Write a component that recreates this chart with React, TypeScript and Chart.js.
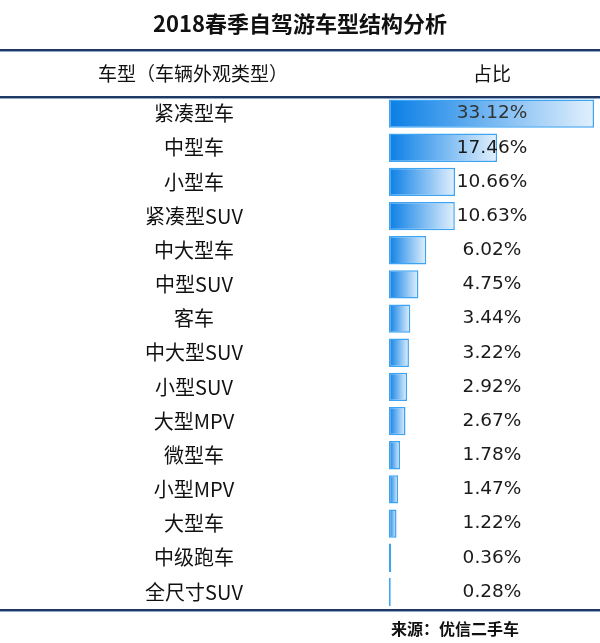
import React, { useEffect, useRef } from "react";
import { Chart, registerables } from "chart.js";

Chart.register(...registerables);

const chartTitle = "2018春季自驾游车型结构分析";
const headerLabels = ["车型（车辆外观类型）", "占比"];
const sourceText = "来源：优信二手车";

const categories = [
  "紧凑型车",
  "中型车",
  "小型车",
  "紧凑型SUV",
  "中大型车",
  "中型SUV",
  "客车",
  "中大型SUV",
  "小型SUV",
  "大型MPV",
  "微型车",
  "小型MPV",
  "大型车",
  "中级跑车",
  "全尺寸SUV",
];

const shares = [33.12, 17.46, 10.66, 10.63, 6.02, 4.75, 3.44, 3.22, 2.92, 2.67, 1.78, 1.47, 1.22, 0.36, 0.28];

const shareLabels = ["33.12%", "17.46%", "10.66%", "10.63%", "6.02%", "4.75%", "3.44%", "3.22%", "2.92%", "2.67%", "1.78%", "1.47%", "1.22%", "0.36%", "0.28%"];

const CJK = '"Noto Sans CJK SC", "Noto Sans", sans-serif';

const tablePlugin = {
  id: "tableDecor",
  afterDraw(chart: any) {
    const ctx = chart.ctx as CanvasRenderingContext2D;
    const W = chart.width;
    const yScale = chart.scales.y;
    ctx.save();
    // title
    ctx.fillStyle = "#111111";
    ctx.font = `bold 22px ${CJK}`;
    ctx.textAlign = "center";
    ctx.textBaseline = "middle";
    ctx.fillText(chartTitle, 300, 24);

    // rule lines
    const rule = (y: number) => {
      ctx.fillStyle = "#1F3864";
      ctx.fillRect(0, y - 1, W, 2);
      ctx.fillStyle = "#8FA6C6";
      ctx.fillRect(0, y + 1, W, 1);
    };
    rule(50);
    rule(97);
    rule(610);

    // header
    ctx.fillStyle = "#111111";
    ctx.font = `19px ${CJK}`;
    ctx.fillText(headerLabels[0], 193, 74);
    ctx.fillText(headerLabels[1], 492, 74);

    // category labels and value labels
    const meta = chart.getDatasetMeta(0);
    categories.forEach((c, i) => {
      const y = yScale.getPixelForValue(i);
      ctx.fillStyle = "#111111";
      ctx.font = `20px ${CJK}`;
      ctx.textAlign = "center";
      ctx.fillText(c, 194, y);
      const el = meta.data[i];
      ctx.fillStyle = i === 0 ? "#333333" : "#1a1a1a";
      ctx.font = `18.5px "DejaVu Sans", sans-serif`;
      ctx.fillText(shareLabels[i], 492, el ? el.y : y);
    });

    // source
    ctx.fillStyle = "#111111";
    ctx.font = `bold 16px ${CJK}`;
    ctx.textAlign = "left";
    ctx.fillText(sourceText, 391, 629);
    ctx.restore();
  },
};

export default function App() {
  const ref = useRef<HTMLCanvasElement | null>(null);
  useEffect(() => {
    if (!ref.current) return;
    const chart = new Chart(ref.current, {
      type: "bar",
      data: {
        labels: categories,
        datasets: [
          {
            data: shares,
            backgroundColor: (c: any) => {
              const ch = c.chart;
              if (!ch.chartArea || !ch.scales.x || typeof c.raw !== "number") return "#3D9BEF";
              const xs = ch.scales.x;
              const x0 = xs.getPixelForValue(0);
              const x1 = xs.getPixelForValue(c.raw);
              const g = ch.ctx.createLinearGradient(x0, 0, Math.max(x1, x0 + 1), 0);
              g.addColorStop(0, "#0A7FE6");
              g.addColorStop(1, "#E2F0FD");
              return g;
            },
            borderColor: "#3DA3F3",
            borderWidth: 1.5,
            borderSkipped: false,
            barPercentage: 0.83,
            categoryPercentage: 1,
          },
        ],
      },
      options: {
        indexAxis: "y",
        responsive: false,
        animation: false,
        devicePixelRatio: 1,
        layout: { padding: { left: 389, right: 6, top: 96.5, bottom: 34 } },
        plugins: {
          legend: { display: false },
          title: { display: false },
          tooltip: { enabled: false },
        },
        scales: {
          x: {
            display: false,
            min: 0,
            max: Math.max(...shares),
            grid: { display: false },
          },
          y: {
            display: false,
            grid: { display: false },
          },
        },
      },
      plugins: [tablePlugin],
    });
    return () => chart.destroy();
  }, []);
  return (
    <div style={{ position: "fixed", left: 0, top: 0, width: 600, height: 643, background: "#ffffff" }}>
      <canvas ref={ref} width={600} height={643} style={{ display: "block" }} />
    </div>
  );
}
